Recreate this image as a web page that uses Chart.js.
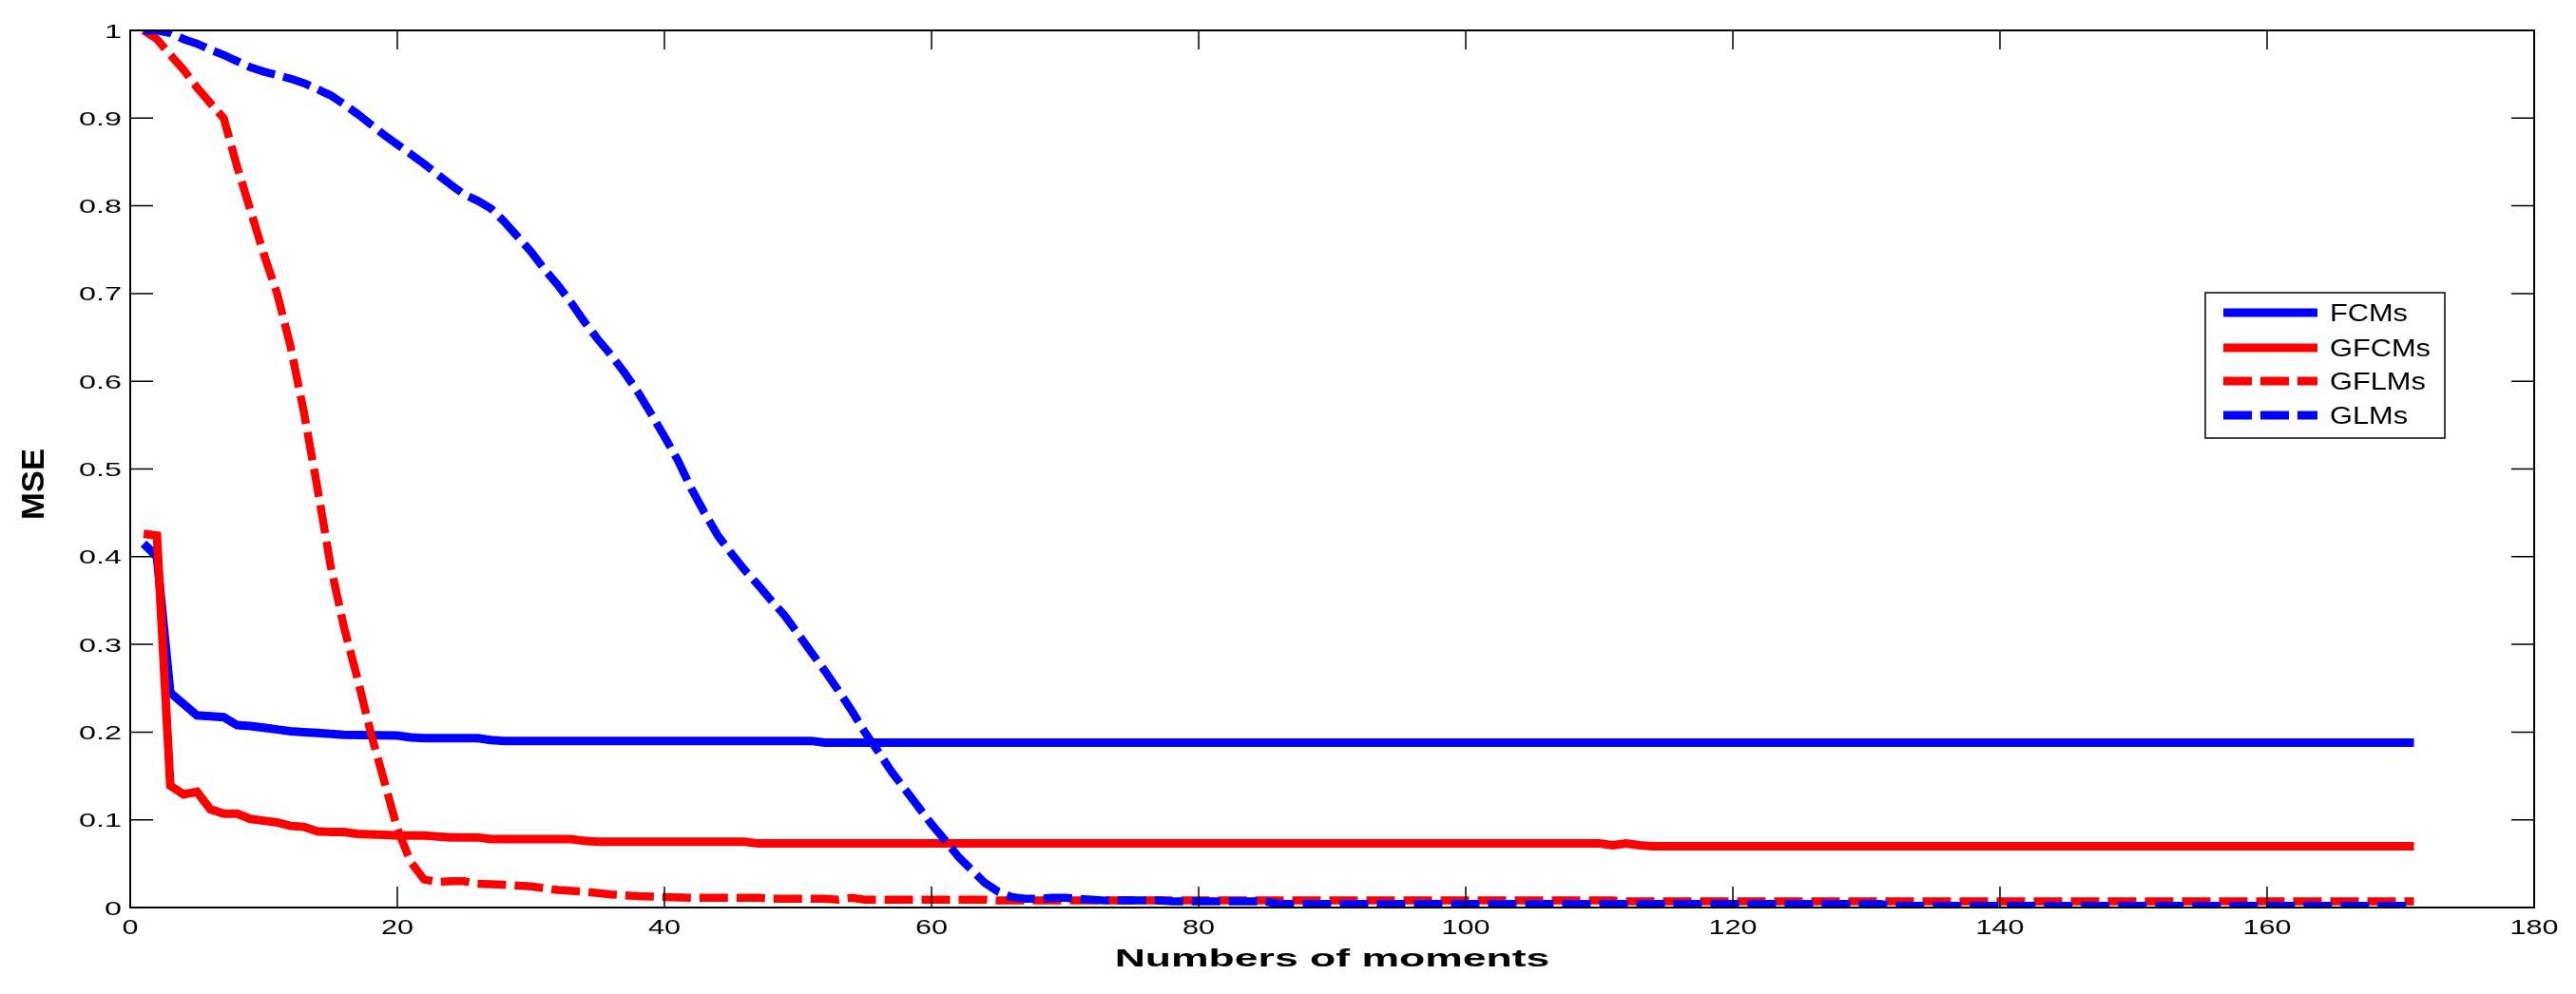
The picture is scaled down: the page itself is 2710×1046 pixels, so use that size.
<!DOCTYPE html>
<html>
<head>
<meta charset="utf-8">
<title>MSE vs moments</title>
<script src="https://cdn.jsdelivr.net/npm/chart.js"></script>
<style>
  html, body { margin: 0; padding: 0; background: #fff; }
  canvas { display: block; }
</style>
</head>
<body>
<canvas id="chart" width="2710" height="1046"></canvas>
<script>
// axis ticks
const xTicks = [0, 20, 40, 60, 80, 100, 120, 140, 160, 180];
const xTickLabels = ['0', '20', '40', '60', '80', '100', '120', '140', '160', '180'];
const yTicks = [0, 0.1, 0.2, 0.3, 0.4, 0.5, 0.6, 0.7, 0.8, 0.9, 1];
const yTickLabels = ['0', '0.1', '0.2', '0.3', '0.4', '0.5', '0.6', '0.7', '0.8', '0.9', '1'];

const seriesNames = ['FCMs', 'GFCMs', 'GFLMs', 'GLMs'];

// FCMs (blue solid)
const fcmX = [1, 2, 3, 4, 5, 6, 7, 8, 9, 10, 11, 12, 13, 14, 15, 16, 20, 21, 22, 26, 27, 28, 51, 52, 171];
const fcmY = [0.415, 0.400, 0.245, 0.232, 0.219, 0.218, 0.217, 0.208, 0.207, 0.205, 0.203, 0.201, 0.200,
  0.199, 0.198, 0.197, 0.196, 0.194, 0.193, 0.193, 0.191, 0.190, 0.190, 0.188, 0.188];

// GFCMs (red solid)
const gfcmX = [1, 2, 3, 4, 5, 6, 7, 8, 9, 10, 11, 12, 13, 14, 15, 16, 17, 19, 20, 22,
  23, 24, 26, 27, 33, 34, 35, 46, 47, 110, 111, 112, 113, 114, 171];
const gfcmY = [0.426, 0.424, 0.139, 0.129, 0.132, 0.112, 0.107, 0.107, 0.101, 0.099,
  0.097, 0.093, 0.092, 0.087, 0.086, 0.086, 0.084, 0.083, 0.082, 0.082,
  0.081, 0.080, 0.080, 0.078, 0.078, 0.076, 0.075, 0.075, 0.073, 0.073,
  0.071, 0.073, 0.071, 0.070, 0.070];

// GFLMs (red dashed)
const gflmX = [1, 2, 3, 4, 5, 6, 7, 8, 9, 10, 11, 12, 13, 14, 15, 16, 17, 18, 19, 20,
  21, 22, 23, 24, 25, 26, 28, 30, 32, 34, 36, 38, 40, 42, 47, 48, 52, 53, 54, 55,
  64, 65, 111, 112, 171];
const gflmY = [1.000, 0.990, 0.972, 0.955, 0.935, 0.917, 0.900, 0.845, 0.795, 0.745,
  0.700, 0.640, 0.565, 0.480, 0.390, 0.320, 0.262, 0.200, 0.145, 0.090,
  0.052, 0.032, 0.029, 0.030, 0.030, 0.027, 0.026, 0.024, 0.020, 0.018,
  0.015, 0.013, 0.012, 0.011, 0.011, 0.010, 0.010, 0.009, 0.011, 0.009,
  0.009, 0.008, 0.008, 0.007, 0.007];

// GLMs (blue dashed)
const glmX = [1, 2, 3, 4, 5, 6, 7, 8, 9, 10, 11, 12, 13, 14, 15, 16, 17, 18, 19, 20,
  21, 22, 23, 24, 25, 26, 27, 28, 29, 30, 31, 32, 33, 34, 35, 36, 37, 38, 39, 40,
  41, 42, 43, 44, 45, 46, 47, 48, 49, 50, 51, 52, 53, 54, 55, 56, 57, 58, 59, 60,
  61, 62, 63, 64, 65, 66, 67, 68, 69, 70, 71, 72, 73, 77, 78, 85, 86, 131, 132, 171];
const glmY = [1.000, 1.000, 0.997, 0.990, 0.985, 0.978, 0.972, 0.965, 0.958, 0.953,
  0.949, 0.945, 0.940, 0.933, 0.926, 0.916, 0.905, 0.893, 0.881, 0.870,
  0.859, 0.848, 0.836, 0.824, 0.813, 0.806, 0.797, 0.782, 0.765, 0.748,
  0.728, 0.710, 0.690, 0.668, 0.648, 0.630, 0.610, 0.588, 0.563, 0.537,
  0.510, 0.478, 0.450, 0.424, 0.404, 0.385, 0.368, 0.350, 0.333, 0.312,
  0.291, 0.270, 0.248, 0.225, 0.200, 0.178, 0.155, 0.135, 0.115, 0.095,
  0.077, 0.058, 0.043, 0.028, 0.018, 0.012, 0.010, 0.010, 0.011, 0.011,
  0.010, 0.009, 0.008, 0.008, 0.007, 0.007, 0.004, 0.004, 0.002, 0.002];

const BLUE = '#0000ff', RED = '#ff0000';
const DASH = [30, 9];
const FONT = '"Liberation Sans", Arial, Helvetica, sans-serif';

function toPoints(xs, ys) {
  return xs.map((x, i) => ({ x, y: ys[i] }));
}

function makeSet(label, xs, ys, color, dashed, order) {
  return {
    label,
    data: toPoints(xs, ys),
    borderColor: color,
    backgroundColor: color,
    borderWidth: dashed ? 8.5 : 9,
    borderDash: dashed ? DASH : [],
    borderCapStyle: 'butt',
    pointRadius: 0,
    tension: 0,
    fill: false,
    order
  };
}

// draw text stretched horizontally like the original export
function wideText(ctx, text, x, y, sx) {
  ctx.save();
  ctx.translate(x, y);
  ctx.scale(sx, 1);
  ctx.fillText(text, 0, 0);
  ctx.restore();
}

// axes box, inward ticks, labels, titles and legend
const matlabFrame = {
  id: 'matlabFrame',
  afterDraw(chart) {
    const { ctx, chartArea: a, scales } = chart;
    const xs = scales.x, ys = scales.y;
    ctx.save();
    ctx.strokeStyle = '#000';
    ctx.lineWidth = 2;
    ctx.strokeRect(a.left, a.top, a.right - a.left, a.bottom - a.top);

    ctx.lineWidth = 1.5;
    ctx.beginPath();
    xs.ticks.forEach(t => {
      const px = xs.getPixelForValue(t.value);
      ctx.moveTo(px, a.bottom); ctx.lineTo(px, a.bottom - 22);
      ctx.moveTo(px, a.top); ctx.lineTo(px, a.top + 20);
    });
    ys.ticks.forEach(t => {
      const py = ys.getPixelForValue(t.value);
      ctx.moveTo(a.left, py); ctx.lineTo(a.left + 24, py);
      ctx.moveTo(a.right, py); ctx.lineTo(a.right - 24, py);
    });
    ctx.stroke();

    ctx.fillStyle = '#000';
    ctx.textBaseline = 'alphabetic';
    ctx.font = '22px ' + FONT;
    ctx.textAlign = 'center';
    xs.ticks.forEach((t, i) => {
      wideText(ctx, xTickLabels[i], xs.getPixelForValue(t.value), a.bottom + 28, 1.39);
    });
    ctx.font = '21px ' + FONT;
    ctx.textAlign = 'right';
    ys.ticks.forEach((t, i) => {
      wideText(ctx, yTickLabels[i], a.left - 9, ys.getPixelForValue(t.value) + 7.5, 1.54);
    });

    // axis titles
    ctx.font = 'bold 26.5px ' + FONT;
    ctx.textAlign = 'center';
    wideText(ctx, 'Numbers of moments', (a.left + a.right) / 2, a.bottom + 62, 1.68);
    ctx.save();
    ctx.translate(46, (a.top + a.bottom) / 2 + 16);
    ctx.rotate(-Math.PI / 2);
    ctx.font = 'bold 33px ' + FONT;
    wideText(ctx, 'MSE', 0, 0, 1.05);
    ctx.restore();

    // legend
    const bx = a.right - 346, by = a.top + 276, bw = 252, bh = 153;
    ctx.fillStyle = '#fff';
    ctx.fillRect(bx, by, bw, bh);
    ctx.lineWidth = 1.5;
    ctx.strokeStyle = '#000';
    ctx.strokeRect(bx, by, bw, bh);
    const rows = [21, 58, 93, 129];
    const sets = chart.data.datasets;
    ctx.font = '25px ' + FONT;
    ctx.textAlign = 'left';
    sets.forEach((ds, i) => {
      const ry = by + rows[i];
      ctx.save();
      ctx.strokeStyle = ds.borderColor;
      ctx.lineWidth = 9;
      ctx.lineCap = 'butt';
      ctx.setLineDash(ds.borderDash);
      ctx.beginPath();
      ctx.moveTo(bx + 19, ry);
      ctx.lineTo(bx + 118, ry);
      ctx.stroke();
      ctx.restore();
      ctx.fillStyle = '#000';
      wideText(ctx, ds.label, bx + 131, ry + 9, 1.23);
    });
    ctx.restore();
  }
};

const hiddenAxis = {
  ticks: { display: false },
  grid: { display: false, drawTicks: false, tickLength: 0 },
  border: { display: false }
};

const chart = new Chart(document.getElementById('chart'), {
  type: 'line',
  data: {
    datasets: [
      makeSet(seriesNames[0], fcmX, fcmY, BLUE, false, 4),
      makeSet(seriesNames[1], gfcmX, gfcmY, RED, false, 3),
      makeSet(seriesNames[2], gflmX, gflmY, RED, true, 2),
      makeSet(seriesNames[3], glmX, glmY, BLUE, true, 1)
    ]
  },
  options: {
    responsive: false,
    animation: false,
    devicePixelRatio: 1,
    layout: { padding: { left: 137, right: 44, top: 32, bottom: 91 } },
    plugins: {
      legend: { display: false },
      tooltip: { enabled: false }
    },
    scales: {
      x: Object.assign({
        type: 'linear',
        min: 0,
        max: 180,
        afterBuildTicks: s => { s.ticks = xTicks.map(v => ({ value: v })); }
      }, hiddenAxis),
      y: Object.assign({
        type: 'linear',
        min: 0,
        max: 1,
        afterBuildTicks: s => { s.ticks = yTicks.map(v => ({ value: v })); }
      }, hiddenAxis)
    }
  },
  plugins: [matlabFrame]
});
</script>
</body>
</html>
